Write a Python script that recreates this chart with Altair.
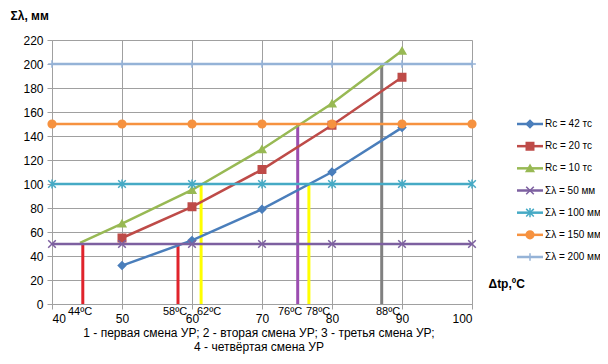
import altair as alt
import pandas as pd

# ---- data ----
series_names = ["Rc = 42 тс", "Rc = 20 тс", "Rc = 10 тс",
                "Σλ = 50 мм", "Σλ = 100 мм", "Σλ = 150 мм", "Σλ = 200 мм"]

curve_x = [50, 60, 70, 80, 90]
rc42 = [32, 53, 79, 110, 147]
rc20 = [55, 81, 112, 149, 189]
rc10_x = [44, 50, 60, 70, 80, 90]
rc10 = [51, 67, 95, 129, 167, 211]
rc10_marker = [False, True, True, True, True, True]

level_x = [40, 50, 60, 70, 80, 90, 100]
levels = [50, 100, 150, 200]

vline_x = [44.4, 58, 61.3, 75.1, 76.7, 87.1]
vline_top = [50, 50, 100, 150, 100, 200]
vline_group = ["1", "1", "2", "3", "2", "4"]

temp_labels = ["44ºC", "58ºC", "62ºC", "76ºC", "78ºC", "88ºC"]
temp_label_x = [44, 58, 62, 76, 78, 88]

caption_lines = ["1 - первая смена УР; 2 - вторая смена УР; 3 - третья смена УР;",
                 "4 - четвёртая смена УР"]

x_ticks = [40, 50, 60, 70, 80, 90, 100]
y_ticks = list(range(0, 221, 20))

# ---- styles ----
colors = ["#4A7EBB", "#BE4B48", "#98B954", "#7D60A0", "#46AAC5", "#F69240", "#95B3D7"]
shapes = ["diamond", "square", "triangle-up",
          "M-1,-1L1,1M-1,1L1,-1",
          "M-1,-1L1,1M-1,1L1,-1M0,-1.2L0,1.2",
          "circle",
          "M-1,0L1,0M0,-1L0,1"]
sizes = [55, 60, 75, 45, 50, 85, 40]
vline_colors = {"1": "#E0232B", "2": "#FFFF00", "3": "#9B4DB0", "4": "#808080"}
label_dx = {"58ºC": -3, "62ºC": 3, "76ºC": -14}
FONT = "Liberation Sans"
GRID = "#A0A0A0"

# ---- build tables ----
rows = []
for name, xs, ys, ms in [
    (series_names[0], curve_x, rc42, [True] * 5),
    (series_names[1], curve_x, rc20, [True] * 5),
    (series_names[2], rc10_x, rc10, rc10_marker),
]:
    for xv, yv, m in zip(xs, ys, ms):
        rows.append({"series": name, "x": xv, "y": yv, "marker": m})
for name, lv in zip(series_names[3:], levels):
    for xv in level_x:
        rows.append({"series": name, "x": xv, "y": lv, "marker": True})
df = pd.DataFrame(rows)

df_v = pd.DataFrame({"x": vline_x, "y0": [0] * len(vline_x), "y1": vline_top,
                     "c": [vline_colors[g] for g in vline_group]})
df_t = pd.DataFrame({"label": temp_labels, "x": temp_label_x, "y": [0] * len(temp_labels)})
df_t["dx"] = [label_dx.get(l, 0) for l in temp_labels]

xscale = alt.Scale(domain=[40, 100], nice=False, zero=False)
yscale = alt.Scale(domain=[0, 220], nice=False)

xaxis = alt.Axis(values=x_ticks, grid=True, gridColor=GRID, domainColor=GRID, tickColor=GRID,
                 tickSize=5, labelFontSize=12, labelFont=FONT, labelColor="black", labelPadding=4,
                 labelOverlap=False,
                 title="Δtр,ºC", titleFont=FONT, titleFontSize=12, titleFontWeight="bold",
                 titleAlign="left", titleBaseline="middle", titleX=436, titleY=-21, titleColor="black")
yaxis = alt.Axis(values=y_ticks, grid=True, gridColor=GRID, domainColor=GRID, tickColor=GRID,
                 tickSize=5, labelFontSize=12, labelFont=FONT, labelColor="black", labelPadding=4,
                 labelOverlap=False,
                 title="Σλ, мм", titleFont=FONT, titleFontSize=12, titleFontWeight="bold",
                 titleAngle=0, titleAlign="left", titleBaseline="middle", titleX=-42, titleY=-25,
                 titleColor="black")

X = alt.X("x:Q", scale=xscale, axis=xaxis)
Y = alt.Y("y:Q", scale=yscale, axis=yaxis)

color_scale = alt.Scale(domain=series_names, range=colors)
shape_scale = alt.Scale(domain=series_names, range=shapes)
size_scale = alt.Scale(domain=series_names, range=sizes)

vlines = alt.Chart(df_v).mark_rule(strokeWidth=3).encode(
    x=X,
    y=alt.Y("y0:Q", scale=yscale, axis=yaxis),
    y2="y1:Q",
    color=alt.Color("c:N", scale=None),
)

lines = alt.Chart(df).mark_line(strokeWidth=2.5).encode(
    x=X, y=Y,
    stroke=alt.Stroke("series:N", scale=color_scale, legend=None),
    detail="series:N",
    order="x:Q",
)

points = alt.Chart(df).transform_filter("datum.marker").mark_point(filled=True, opacity=1, strokeWidth=1.5).encode(
    x=X, y=Y,
    fill=alt.Fill("series:N", scale=color_scale, legend=None),
    stroke=alt.Stroke("series:N", scale=color_scale, legend=None),
    shape=alt.Shape("series:N", scale=shape_scale, legend=None),
    size=alt.Size("series:N", scale=size_scale, legend=None),
)

temp_layers = []
for dxv in sorted(set(df_t["dx"])):
    temp_layers.append(
        alt.Chart(df_t[df_t["dx"] == dxv]).mark_text(
            baseline="top", dy=2, dx=int(dxv), fontSize=11, font=FONT, color="black"
        ).encode(x=X, y=Y, text="label:N")
    )

caption = alt.Chart(pd.DataFrame({"t": ["\n".join(caption_lines)]})).mark_text(
    align="center", baseline="top", fontSize=12, font=FONT, color="black",
    lineBreak="\n", lineHeight=14,
).encode(x=alt.value(207), y=alt.value(288), text="t:N")

main = alt.layer(vlines, lines, points, *temp_layers, caption)

# ---- legend ----
df_leg = pd.DataFrame({"series": series_names, "idx": list(range(len(series_names)))})
leg_y = alt.Y("idx:Q", scale=alt.Scale(domain=[0, len(series_names) - 1], range=[84, 217],
                                       nice=False, zero=False), axis=None)
leg_line = alt.Chart(df_leg).mark_rule(strokeWidth=2.5).encode(
    x=alt.value(465), x2=alt.value(491), y=leg_y,
    stroke=alt.Stroke("series:N", scale=color_scale, legend=None),
)
leg_pt = alt.Chart(df_leg).mark_point(filled=True, opacity=1, strokeWidth=1.5).encode(
    x=alt.value(478), y=leg_y,
    fill=alt.Fill("series:N", scale=color_scale, legend=None),
    stroke=alt.Stroke("series:N", scale=color_scale, legend=None),
    shape=alt.Shape("series:N", scale=shape_scale, legend=None),
    size=alt.Size("series:N", scale=size_scale, legend=None),
)
leg_txt = alt.Chart(df_leg).mark_text(align="left", baseline="middle", fontSize=10, font=FONT,
                                      color="black").encode(
    x=alt.value(493), y=leg_y, text="series:N",
)
legend = alt.layer(leg_line, leg_pt, leg_txt)

chart = alt.layer(main, legend).resolve_scale(y="independent").properties(
    width=420, height=264,
    autosize=alt.AutoSizeParams(type="none"),
    padding={"left": 44, "top": 32, "right": 128, "bottom": 52},
).configure_view(stroke=None).configure(background="white")

chart.save("out.html", embed_options={"renderer": "svg", "actions": False})
